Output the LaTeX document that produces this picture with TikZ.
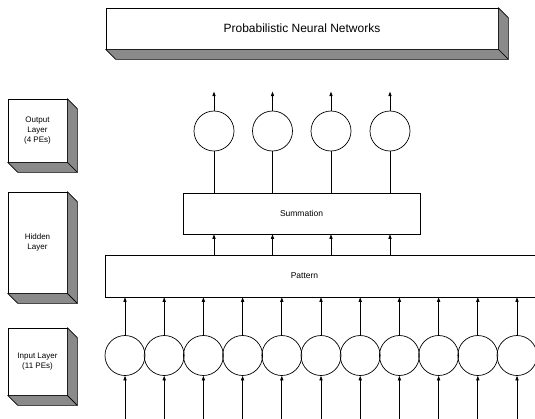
\documentclass[tikz,border=0pt]{standalone}
\usepackage{fontspec}
\setmainfont{Liberation Sans}
\usepackage{tikz}
\usetikzlibrary{arrows.meta,positioning,calc}
\definecolor{PNNStipple}{HTML}{8A8A8A}
\tikzset{
  pnnbox/.style={draw,line width=0.7pt,fill=white,inner sep=0pt,align=center},
  sidebox/.style={pnnbox,minimum width=59pt,font=\fontsize{8}{10}\selectfont},
  neuron/.style={circle,draw,line width=0.7pt,inner sep=0pt,minimum size=40pt},
  pnnline/.style={line width=0.7pt},
  pnnarrow/.style={-{Triangle[length=4.5pt,width=3.2pt]},line width=0.7pt},
  pnnback/.style={{Triangle[length=4.5pt,width=3.2pt]}-,line width=0.7pt},
  bevel/.style={draw,line width=0.7pt,fill=PNNStipple,line join=round},
  plabel/.style={font=\fontsize{8.5}{10}\selectfont}
}
\newcommand{\bevelbox}[1]{%
  \filldraw[bevel] (#1.north east) -- ++(10,10) -- ($(#1.south east)+(10,10)$) -- (#1.south east) -- cycle;
  \filldraw[bevel] (#1.south west) -- ($(#1.south west)+(10,10)$) -- ($(#1.south east)+(10,10)$) -- (#1.south east) -- cycle;}

\begin{document}
\begin{tikzpicture}[x=1pt,y=-1pt]
  \useasboundingbox (0,0) rectangle (535,418);
  \clip (0,0) rectangle (535,418);

  \node[pnnbox,minimum width=392pt,minimum height=41pt,font=\fontsize{12}{14}\selectfont] (title) at (302,28.5)
    {Probabilistic Neural Networks};
  \bevelbox{title}

  \node[sidebox,minimum height=63pt] (outlayer) at (37.5,130.5) {Output\\Layer\\(4 PEs)};
  \node[sidebox,minimum height=101pt] (hidlayer) at (37.5,242.5) {Hidden\\Layer};
  \node[sidebox,minimum height=67pt] (inlayer) at (37.5,361.5) {Input Layer\\(11 PEs)};
  \bevelbox{outlayer}
  \bevelbox{hidlayer}
  \bevelbox{inlayer}

  \node[pnnbox,plabel,minimum width=237pt,minimum height=41pt] (summation) at (301.5,213.5) {Summation};
  \node[pnnbox,minimum width=460pt,minimum height=42pt,anchor=west] (pattern) at (105,276) {};
  \node[plabel] (patternlabel) at (304.5,276) {Pattern};

  \node[neuron] (out1) at (214,131) {};
  \node[neuron] (out2) at (272.5,131) {};
  \node[neuron] (out3) at (331,131) {};
  \node[neuron] (out4) at (390,131) {};

  \node[neuron] (in1) at (125,355.5) {};
  \node[neuron] (in2) at (164.2,355.5) {};
  \node[neuron] (in3) at (203.4,355.5) {};
  \node[neuron] (in4) at (242.6,355.5) {};
  \node[neuron] (in5) at (281.8,355.5) {};
  \node[neuron] (in6) at (321,355.5) {};
  \node[neuron] (in7) at (360.2,355.5) {};
  \node[neuron] (in8) at (399.4,355.5) {};
  \node[neuron] (in9) at (438.6,355.5) {};
  \node[neuron] (in10) at (477.8,355.5) {};
  \node[neuron] (in11) at (517,355.5) {};

  \draw[pnnarrow] (out1.north) -- ++(0,-19);
  \draw[pnnarrow] (out2.north) -- ++(0,-19);
  \draw[pnnarrow] (out3.north) -- ++(0,-19);
  \draw[pnnarrow] (out4.north) -- ++(0,-19);
  \draw[pnnline] (out1.south) -- (out1.south |- summation.north);
  \draw[pnnline] (out2.south) -- (out2.south |- summation.north);
  \draw[pnnline] (out3.south) -- (out3.south |- summation.north);
  \draw[pnnline] (out4.south) -- (out4.south |- summation.north);
  \draw[pnnarrow] (out1 |- pattern.north) -- (out1 |- summation.south);
  \draw[pnnarrow] (out2 |- pattern.north) -- (out2 |- summation.south);
  \draw[pnnarrow] (out3 |- pattern.north) -- (out3 |- summation.south);
  \draw[pnnarrow] (out4 |- pattern.north) -- (out4 |- summation.south);

  \draw[pnnarrow] (in1.north) -- (in1 |- pattern.south);
  \draw[pnnarrow] (in2.north) -- (in2 |- pattern.south);
  \draw[pnnarrow] (in3.north) -- (in3 |- pattern.south);
  \draw[pnnarrow] (in4.north) -- (in4 |- pattern.south);
  \draw[pnnarrow] (in5.north) -- (in5 |- pattern.south);
  \draw[pnnarrow] (in6.north) -- (in6 |- pattern.south);
  \draw[pnnarrow] (in7.north) -- (in7 |- pattern.south);
  \draw[pnnarrow] (in8.north) -- (in8 |- pattern.south);
  \draw[pnnarrow] (in9.north) -- (in9 |- pattern.south);
  \draw[pnnarrow] (in10.north) -- (in10 |- pattern.south);
  \draw[pnnarrow] (in11.north) -- (in11 |- pattern.south);
  \draw[pnnback] (in1.south) -- ++(0,44);
  \draw[pnnback] (in2.south) -- ++(0,44);
  \draw[pnnback] (in3.south) -- ++(0,44);
  \draw[pnnback] (in4.south) -- ++(0,44);
  \draw[pnnback] (in5.south) -- ++(0,44);
  \draw[pnnback] (in6.south) -- ++(0,44);
  \draw[pnnback] (in7.south) -- ++(0,44);
  \draw[pnnback] (in8.south) -- ++(0,44);
  \draw[pnnback] (in9.south) -- ++(0,44);
  \draw[pnnback] (in10.south) -- ++(0,44);
  \draw[pnnback] (in11.south) -- ++(0,44);
\end{tikzpicture}
\end{document}
